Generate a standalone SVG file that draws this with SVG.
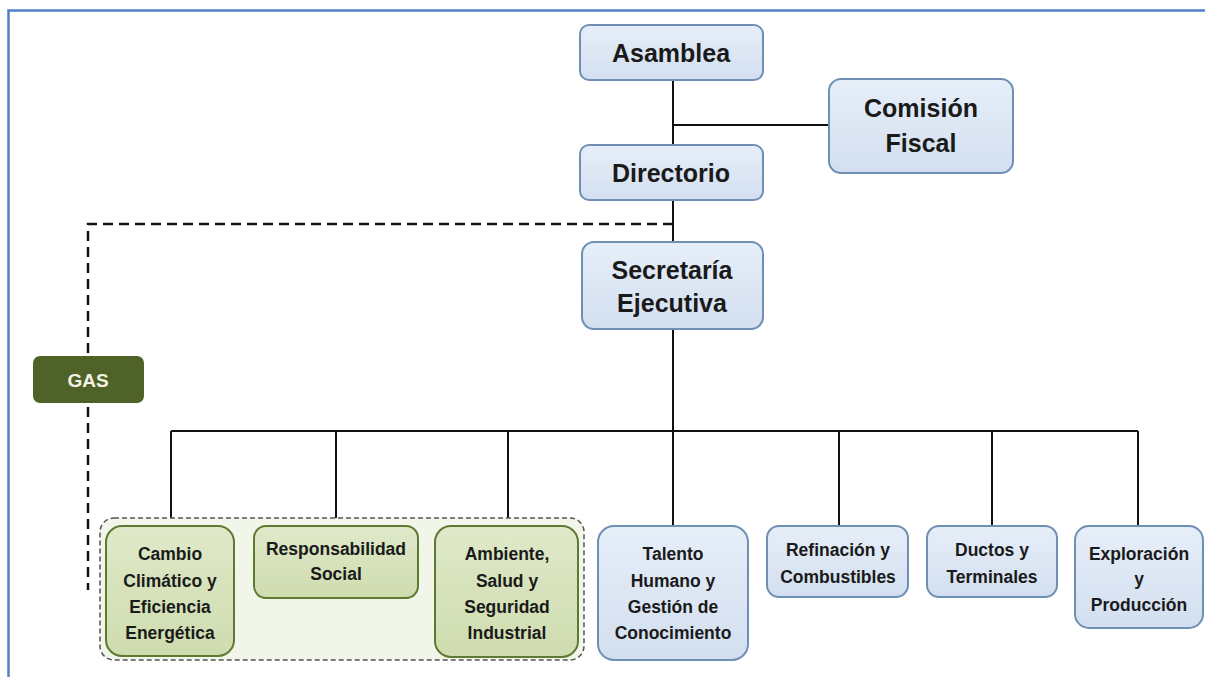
<svg xmlns="http://www.w3.org/2000/svg" width="1205" height="677" viewBox="0 0 1205 677">
<defs>
<linearGradient id="gb" x1="0" y1="0" x2="0" y2="1"><stop offset="0" stop-color="#e6eef8"/><stop offset="1" stop-color="#d3dff0"/></linearGradient>
<linearGradient id="gg" x1="0" y1="0" x2="0" y2="1"><stop offset="0" stop-color="#dfe9c9"/><stop offset="1" stop-color="#cfdcae"/></linearGradient>
<style>
.b{fill:url(#gb);stroke:#6f8fb5;stroke-width:2}
.g{fill:url(#gg);stroke:#5f7a30;stroke-width:2}
.t{font-family:"Liberation Sans",Arial,sans-serif;font-weight:bold;fill:#1a1a1a;text-anchor:middle}
.big{font-size:25px}
.sm{font-size:17.5px}
.ln{stroke:#111;stroke-width:2;fill:none}
.dl{stroke:#111;stroke-width:2.5;fill:none;stroke-dasharray:10,6}
</style>
</defs>
<rect width="1205" height="677" fill="#fff"/>
<path d="M8.5 677V10.5H1205" fill="none" stroke="#4f81c8" stroke-width="2.5"/>
<g id="connectors">
<path class="ln" d="M673 80V145M673 125H829M673 200V242M673 329V431M171 431H1138M171 431V526M336 431V526M508 431V526M673 431V526M839 431V526M992 431V526M1138 431V526"/>
<path class="dl" d="M673 224H88V590"/>
</g>
<g id="group-box"><rect x="100" y="518" width="484" height="142" rx="14" fill="#f1f5ea" stroke="#555" stroke-width="1.5" stroke-dasharray="5,3"/></g>
<g id="asamblea"><rect class="b" x="580" y="25" width="183" height="55" rx="9"/><text class="t big" x="671" y="62">Asamblea</text></g>
<g id="comision"><rect class="b" x="829" y="79" width="184" height="94" rx="12"/><text class="t big" x="921" y="117">Comisión</text><text class="t big" x="921" y="152">Fiscal</text></g>
<g id="directorio"><rect class="b" x="580" y="145" width="183" height="55" rx="9"/><text class="t big" x="671" y="182">Directorio</text></g>
<g id="secretaria"><rect class="b" x="582" y="242" width="181" height="87" rx="12"/><text class="t big" x="672" y="279">Secretaría</text><text class="t big" x="672" y="312">Ejecutiva</text></g>
<g id="gas"><rect x="33" y="356" width="111" height="47" rx="7" fill="#4f6228"/><text class="t" x="88" y="387" style="font-size:19px;fill:#f2f2e6">GAS</text></g>
<g id="cambio"><rect class="g" x="106" y="526" width="128" height="130" rx="16"/><text class="t sm" x="170" y="560">Cambio</text><text class="t sm" x="170" y="587">Climático y</text><text class="t sm" x="170" y="613">Eficiencia</text><text class="t sm" x="170" y="639">Energética</text></g>
<g id="responsabilidad"><rect class="g" x="254" y="526" width="164" height="72" rx="12"/><text class="t sm" x="336" y="555">Responsabilidad</text><text class="t sm" x="336" y="580">Social</text></g>
<g id="ambiente"><rect class="g" x="435" y="526" width="143" height="131" rx="16"/><text class="t sm" x="507" y="560">Ambiente,</text><text class="t sm" x="507" y="587">Salud y</text><text class="t sm" x="507" y="613">Seguridad</text><text class="t sm" x="507" y="639">Industrial</text></g>
<g id="talento"><rect class="b" x="598" y="526" width="150" height="134" rx="16"/><text class="t sm" x="673" y="560">Talento</text><text class="t sm" x="673" y="587">Humano y</text><text class="t sm" x="673" y="613">Gestión de</text><text class="t sm" x="673" y="639">Conocimiento</text></g>
<g id="refinacion"><rect class="b" x="767" y="526" width="141" height="71" rx="12"/><text class="t sm" x="838" y="556">Refinación y</text><text class="t sm" x="838" y="583">Combustibles</text></g>
<g id="ductos"><rect class="b" x="927" y="526" width="130" height="71" rx="12"/><text class="t sm" x="992" y="556">Ductos y</text><text class="t sm" x="992" y="583">Terminales</text></g>
<g id="exploracion"><rect class="b" x="1075" y="526" width="128" height="102" rx="14"/><text class="t sm" x="1139" y="560">Exploración</text><text class="t sm" x="1139" y="585">y</text><text class="t sm" x="1139" y="611">Producción</text></g>
</svg>
